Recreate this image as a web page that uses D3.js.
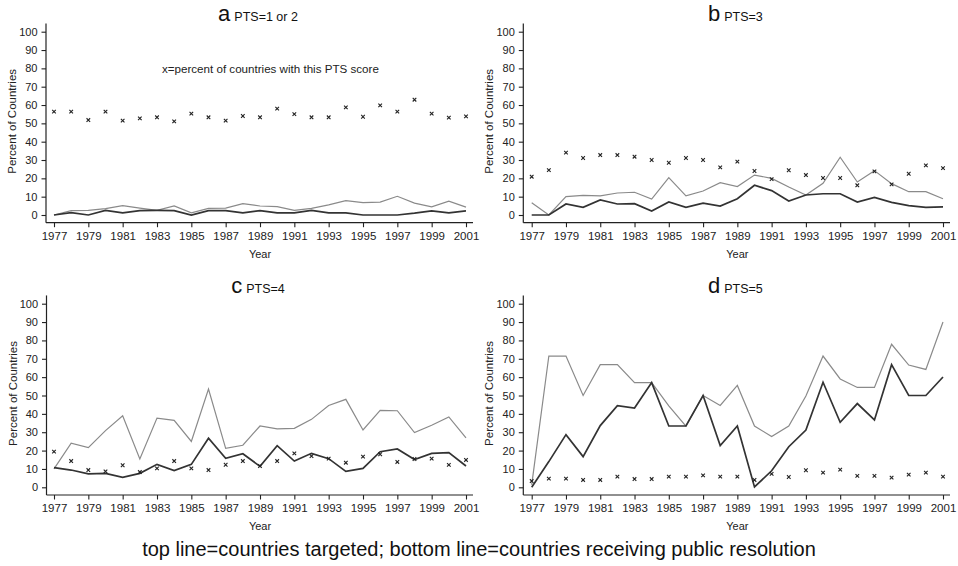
<!DOCTYPE html>
<html>
<head>
<meta charset="utf-8">
<script src="https://cdn.jsdelivr.net/npm/d3@7"></script>
<style>
  body { margin: 0; background: #fff; }
  svg { display: block; font-family: "Liberation Sans", Arial, sans-serif; }
</style>
</head>
<body>
<script>
// years on the x axis
var years = d3.range(1977, 2002);
var yTicks = [0, 10, 20, 30, 40, 50, 60, 70, 80, 90, 100];
var xTicks = d3.range(1977, 2002, 2);

// PTS = 1 or 2
var aShare    = [56.4, 56.4, 51.8, 56.4, 51.5, 52.7, 53.3, 51.1, 55.3, 53.3, 51.5, 54, 53.3, 58, 55, 53.3, 53.3, 58.7, 53.6, 59.8, 56.4, 62.9, 55.3, 53.1, 53.8];
var aTargeted = [0, 2.4, 2.5, 3.5, 5.1, 3.8, 2.5, 5, 1.2, 3.6, 3.8, 6.2, 4.9, 4.6, 2.5, 3.6, 5.5, 7.8, 6.8, 7, 10.2, 6.5, 4.4, 7.6, 4.3];
var aResolved = [0, 1.3, 0, 2.5, 1.2, 2.4, 2.5, 2.4, 0, 2.4, 2.4, 1.2, 2.4, 1.2, 1.2, 2.5, 1.2, 1.2, 0, 0, 0, 1, 2.3, 1.2, 2.3];

// PTS = 3
var bShare    = [20.9, 24.5, 34, 31.1, 32.7, 32.7, 31.8, 30, 28.5, 31.1, 30, 26, 29.1, 24, 19.6, 24.4, 21.8, 20.2, 20.2, 16.2, 23.8, 16.7, 22.5, 27.1, 25.6];
var bTargeted = [6.7, 0, 10, 10.7, 10.4, 12, 12.4, 8.7, 20.4, 10.4, 13.1, 17.6, 15.5, 21.8, 20, 15.3, 10.9, 17.3, 31.5, 18, 24.2, 17.1, 12.7, 12.7, 8.9];
var bResolved = [0, 0, 6, 4.2, 8.2, 6, 6.2, 2.2, 7.1, 4.2, 6.5, 4.9, 8.9, 16.2, 13.3, 7.6, 10.9, 11.6, 11.6, 7.1, 9.6, 6.9, 5.1, 4.2, 4.4];

// PTS = 4
var cShare    = [19.4, 14.3, 9.4, 8.7, 12, 8.3, 10.3, 14.3, 10.3, 9.4, 12.3, 14.3, 11.6, 14.3, 18.5, 17, 15.6, 13.4, 16.7, 18, 13.8, 15.4, 15.6, 12.2, 14.9];
var cTargeted = [10, 24, 21.6, 30.9, 39, 15.4, 37.7, 36.5, 25, 53.5, 21.2, 22.9, 33.4, 31.8, 32.1, 37, 44.6, 47.9, 31.2, 41.9, 41.7, 29.8, 33.8, 38.3, 26.9];
var cResolved = [10.7, 9.4, 7.3, 7.6, 5.4, 7.6, 12.5, 9.1, 12.5, 26.7, 15.8, 18.3, 11.4, 22.7, 14.3, 18.5, 15.6, 8.7, 10.3, 19.4, 20.9, 15.1, 18.5, 18.9, 11.6];

// PTS = 5
var dShare    = [3.4, 4.7, 4.7, 4, 4, 5.8, 4.5, 4.5, 5.8, 5.8, 6.5, 5.8, 5.8, 4, 7.3, 5.6, 9.3, 8, 9.6, 6.2, 6.2, 5.3, 6.9, 8, 5.8];
var dTargeted = [1.3, 71.5, 71.5, 50, 66.8, 66.8, 57, 57, 44.4, 33.3, 50, 44.6, 55.5, 33.4, 27.6, 33.4, 49.7, 71.5, 59, 54.4, 54.4, 77.9, 66.6, 64.2, 90];
var dResolved = [0, 14, 28.7, 16.7, 33.6, 44.5, 43.2, 57, 33.4, 33.4, 50, 22.7, 33.4, 0.2, 9, 22.1, 31.2, 57.2, 35.4, 45.6, 36.7, 66.8, 50, 50, 60.1];

var panels = [
  { letter: "a", label: "PTS=1 or 2", share: aShare, top: aTargeted, bottom: aResolved, x0: 54, x1: 466, y0: 215, y1: 31.7, axisX: 46, note: true },
  { letter: "b", label: "PTS=3", share: bShare, top: bTargeted, bottom: bResolved, x0: 531.7, x1: 943, y0: 215, y1: 31.7, axisX: 523.3 },
  { letter: "c", label: "PTS=4", share: cShare, top: cTargeted, bottom: cResolved, x0: 54, x1: 466, y0: 487.3, y1: 303.7, axisX: 46.5 },
  { letter: "d", label: "PTS=5", share: dShare, top: dTargeted, bottom: dResolved, x0: 531.7, x1: 943, y0: 487.3, y1: 303.7, axisX: 523.3 }
];

var svg = d3.select("body").append("svg").attr("width", 958).attr("height", 566);

panels.forEach(function (p) {
  var x = d3.scaleLinear().domain([1977, 2001]).range([p.x0, p.x1]);
  var y = d3.scaleLinear().domain([0, 100]).range([p.y0, p.y1]);
  var axisY = p.y0 + 7.7;
  var g = svg.append("g");

  // axes lines
  g.append("line").attr("x1", p.axisX).attr("x2", p.axisX)
    .attr("y1", y(104.5)).attr("y2", axisY)
    .attr("stroke", "#222").attr("stroke-width", 1.2);
  g.append("line").attr("x1", p.axisX).attr("x2", x(2001) + 7)
    .attr("y1", axisY).attr("y2", axisY)
    .attr("stroke", "#222").attr("stroke-width", 1.2);

  var ya = g.append("g").attr("transform", "translate(" + p.axisX + ",0)")
    .call(d3.axisLeft(y).tickValues(yTicks).tickSize(4.5).tickPadding(4));
  ya.select(".domain").remove();
  ya.selectAll(".tick text").style("font-size", "11px");

  var xa = g.append("g").attr("transform", "translate(0," + axisY + ")")
    .call(d3.axisBottom(x).tickValues(xTicks).tickFormat(d3.format("d")).tickSize(4.5).tickPadding(4.5));
  xa.select(".domain").remove();
  xa.selectAll(".tick text").style("font-size", "11.5px");

  g.selectAll(".tick line").attr("stroke", "#222").attr("stroke-width", 1.1);
  g.selectAll(".tick text").attr("fill", "#222")
    .style("font-family", "'Liberation Sans', Arial, sans-serif");

  // axis titles
  g.append("text").attr("x", (p.x0 + p.x1) / 2).attr("y", axisY + 35)
    .attr("text-anchor", "middle").attr("font-size", "11px").attr("fill", "#222").text("Year");
  g.append("text")
    .attr("transform", "translate(" + (p.axisX - 30) + "," + ((p.y0 + p.y1) / 2 - 2) + ") rotate(-90)")
    .attr("text-anchor", "middle").attr("font-size", "11.5px").attr("fill", "#222").text("Percent of Countries");

  // panel title
  var t = g.append("text").attr("x", (p.x0 + p.x1) / 2 - 2).attr("y", p.y1 - 11)
    .attr("text-anchor", "middle").attr("fill", "#111");
  t.append("tspan").attr("font-size", "22px").text(p.letter);
  t.append("tspan").attr("font-size", "12.5px").attr("dx", 4).text(p.label);

  if (p.note) {
    g.append("text").attr("x", 162).attr("y", 73).attr("font-size", "11.6px")
      .attr("fill", "#222").text("x=percent of countries with this PTS score");
  }

  var line = d3.line().x(function (d, i) { return x(years[i]); }).y(function (d) { return y(d); });

  g.append("path").datum(p.top).attr("d", line)
    .attr("fill", "none").attr("stroke", "#8a8a8a").attr("stroke-width", 1.2);
  g.append("path").datum(p.bottom).attr("d", line)
    .attr("fill", "none").attr("stroke", "#333").attr("stroke-width", 1.7);

  g.selectAll(".mk").data(p.share).enter().append("path")
    .attr("class", "mk")
    .attr("transform", function (d, i) { return "translate(" + x(years[i]) + "," + y(d) + ")"; })
    .attr("d", "M-1.8,-1.8L1.8,1.8M-1.8,1.8L1.8,-1.8")
    .attr("stroke", "#222").attr("stroke-width", 1.1);
});

svg.append("text").attr("x", 479).attr("y", 556).attr("text-anchor", "middle")
  .attr("font-size", "20px").attr("fill", "#111")
  .text("top line=countries targeted; bottom line=countries receiving public resolution");
</script>
</body>
</html>
